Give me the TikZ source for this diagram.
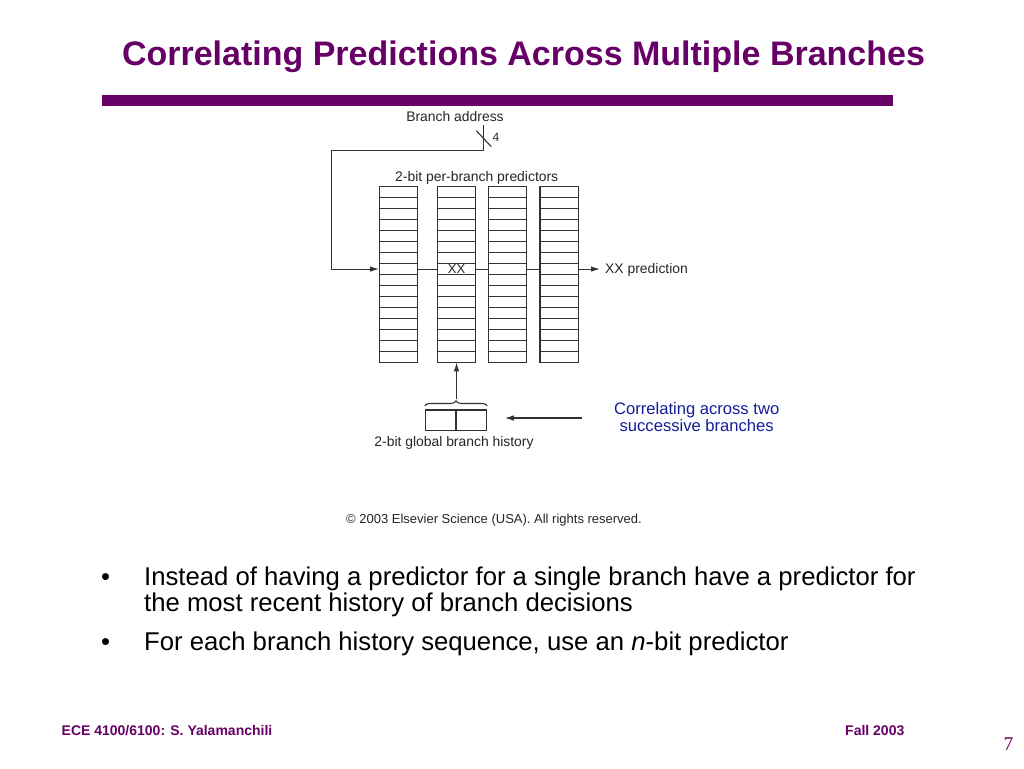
\documentclass[tikz,border=0pt]{standalone}
\usepackage{fontspec}
\setmainfont{Liberation Sans}
\newfontfamily\serifnum{Liberation Serif}
\usetikzlibrary{arrows.meta,decorations.pathreplacing,calc}
\definecolor{slidepurple}{RGB}{102,0,102}
\definecolor{noteblue}{RGB}{20,30,150}
\definecolor{linegray}{RGB}{50,50,50}
\begin{document}
\begin{tikzpicture}[x=1pt,y=-1pt,
  wire/.style={draw=linegray,line width=1.1pt},
  arr/.style={wire,-{Latex[length=9pt,width=5.5pt]}},
  col/.style={draw=linegray,line width=1.1pt,minimum width=38.5pt,minimum height=175.7pt,inner sep=0pt,outer sep=0pt},
  lbl/.style={font=\fontsize{13.9}{15}\selectfont,text=black!85,inner sep=0pt},
  bullettext/.style={font=\fontsize{25.7}{28}\selectfont,text=black,inner sep=0pt,anchor=base west},
  footer/.style={font=\bfseries\fontsize{14}{16}\selectfont,text=slidepurple,inner sep=0pt,anchor=base west}
]
\useasboundingbox[fill=white] (0,0) rectangle (1024,768);

% title and bar
\node[font=\bfseries\fontsize{34}{37}\selectfont,text=slidepurple,inner sep=0pt,anchor=base] (title) at (523.5,65) {Correlating Predictions Across Multiple Branches};
\fill[slidepurple] (102,95.3) rectangle (893,106);

% predictor tables
\node[col] (c1) at (398.3,274.55) {};
\node[col] (c2) at (456.5,274.55) {};
\node[col] (c3) at (507.5,274.55) {};
\node[col] (c4) at (559.2,274.55) {};
\foreach \c in {c1,c2,c3,c4}{
  \foreach \k in {1,...,15}{
    \draw[wire] ($(\c.north west)+(0,\k*10.98)$) -- ($(\c.north east)+(0,\k*10.98)$);
  }
}
\coordinate (rowy) at (0,269.05);
\node[lbl,font=\fontsize{13}{15}\selectfont] (xx) at (c2 |- rowy) {XX};

\node[lbl,anchor=base] (ptitle) at (476.7,181) {2-bit per-branch predictors};

% branch address input
\node[lbl,anchor=base] (ba) at (455,121) {Branch address};
\coordinate (tap) at (483.3,150.7);
\coordinate (lc) at (331.7,150.7);
\draw[arr] ($(tap |- ba.south)+(0,4)$) -- (tap) -- (lc) |- (c1.west |- rowy);
\draw[wire] ($(tap)+(-7,-20)$) -- ($(tap)+(8,-4)$);
\node[lbl,anchor=base west,font=\fontsize{12}{14}\selectfont] (four) at (492.5,141.5) {4};

% row connections
\draw[wire] (c1.east |- rowy) -- (c2.west |- rowy);
\draw[wire] (c2.east |- rowy) -- (c3.west |- rowy);
\draw[wire] (c3.east |- rowy) -- (c4.west |- rowy);
\node[lbl,anchor=base west] (pred) at (605,273.8) {XX prediction};
\draw[arr] (c4.east |- rowy) -- ($(pred.base west |- rowy)+(-5,0)$);

% global history register
\node[draw=linegray,line width=1.1pt,minimum width=61.4pt,minimum height=20.7pt,inner sep=0pt] (hist) at (456,420.35) {};
\draw[wire] (hist.north) -- (hist.south);
\draw[wire,decorate,decoration={brace,amplitude=5pt}] ($(hist.north west)+(0,-3.5)$) -- ($(hist.north east)+(0,-3.5)$);
\coordinate (bracetip) at ($(hist.north)+(0,-10)$);
\draw[arr] (c2.south |- bracetip) -- (c2.south);
\node[lbl,anchor=base] (histlbl) at (454,446) {2-bit global branch history};

% note
\node[font=\fontsize{16.6}{17}\selectfont,text=noteblue,align=center,inner sep=0pt] (note) at (696.7,417) {Correlating across two\\successive branches};
\draw[arr] ($(note.west)+(-32,1)$) -- ($(hist.east |- note.west)+(17.6,1)$);

% copyright
\node[lbl,anchor=base,font=\fontsize{13}{15}\selectfont] (copy) at (494,523.3) {© 2003 Elsevier Science (USA). All rights reserved.};

% bullets
\node[font=\fontsize{25.5}{28}\selectfont,inner sep=0pt,anchor=base] (b1) at (105.5,585) {•};
\node[bullettext] (t1) at (144,585) {Instead of having a predictor for a single branch have a predictor for};
\node[bullettext] (t1b) at (144,611.7) {the most recent history of branch decisions};
\node[font=\fontsize{25.5}{28}\selectfont,inner sep=0pt,anchor=base] (b2) at (105.5,650) {•};
\node[bullettext] (t2) at (144,650) {For each branch history sequence, use an \textit{n}-bit predictor};

% footer
\node[footer] (f1) at (61.5,735.3) {ECE 4100/6100: S. Yalamanchili};
\node[footer] (f2) at (845,735.3) {Fall 2003};
\node[font=\serifnum\fontsize{19.5}{21}\selectfont,text=slidepurple,inner sep=0pt,anchor=base west] (pg) at (1003.5,750) {7};
\end{tikzpicture}
\end{document}
